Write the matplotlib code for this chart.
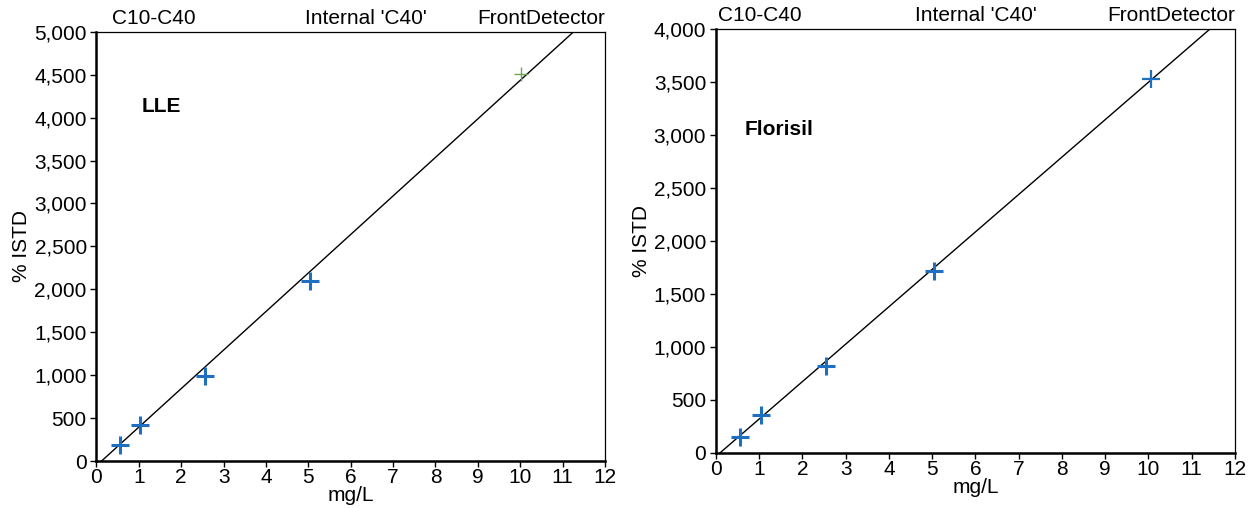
import matplotlib
matplotlib.use('Agg')
import matplotlib.pyplot as plt
from matplotlib.ticker import FuncFormatter, MultipleLocator

plt.rcParams['font.family'] = ['Liberation Sans', 'DejaVu Sans']

# calibration standards (mg/L) and response (% ISTD)
lle_conc = [0.55, 1.03, 2.55, 5.05, 10.03]
lle_resp = [185, 425, 985, 2095, 4510]
lle_slope, lle_icpt = 448.8, -54.0

flo_conc = [0.55, 1.04, 2.54, 5.04, 10.06]
flo_resp = [151, 358, 821, 1717, 3528]
flo_slope, flo_icpt = 353.0, -32.0

header = ['C10-C40', "Internal 'C40'", 'FrontDetector']

BLUE = '#1f6fc0'
GREEN = '#6aa84f'
FS = 15

fig = plt.figure(figsize=(12.53, 5.08), dpi=100, facecolor='white')
ax1 = fig.add_axes([0.077, 0.0925, 0.4058, 0.845])
ax2 = fig.add_axes([0.5714, 0.1083, 0.4142, 0.8346])


def style(ax, ymax, hdr_pos):
    ax.set_xlim(0, 12)
    ax.set_ylim(0, ymax)
    ax.xaxis.set_major_locator(MultipleLocator(1))
    ax.yaxis.set_major_locator(MultipleLocator(500))
    ax.yaxis.set_major_formatter(FuncFormatter(lambda v, p: f'{int(v):,}'))
    ax.tick_params(direction='out', length=4, width=1, labelsize=FS, pad=1)
    ax.tick_params(axis='y', pad=3)
    for s in ['top', 'right']:
        ax.spines[s].set_linewidth(0.9)
    for s in ['left', 'bottom']:
        ax.spines[s].set_linewidth(1.8)
    ax.set_xlabel('mg/L', fontsize=FS, labelpad=-1)
    ax.set_ylabel('% ISTD', fontsize=FS, labelpad=2)
    (xl, xc, xr), yb = hdr_pos, 1.018
    ax.text(xl, yb, header[0], transform=ax.transAxes, fontsize=FS, ha='left', va='baseline')
    ax.text(xc, yb, header[1], transform=ax.transAxes, fontsize=FS, ha='center', va='baseline')
    ax.text(xr, yb, header[2], transform=ax.transAxes, fontsize=FS, ha='right', va='baseline')


# LLE panel
ax1.axline((0, lle_icpt), slope=lle_slope, color='black', linewidth=1)
ax1.scatter(lle_conc[:-1], lle_resp[:-1], marker='+', s=150, linewidths=2.2, color=BLUE, zorder=3)
ax1.scatter(lle_conc[-1:], lle_resp[-1:], marker='+', s=110, linewidths=1, color=GREEN, zorder=3)
ax1.text(1.07, 4130, 'LLE', fontsize=FS, fontweight='bold', va='center')
style(ax1, 5000, (0.03, 0.53, 1.0))

# Florisil panel
ax2.axline((0, flo_icpt), slope=flo_slope, color='black', linewidth=1)
ax2.scatter(flo_conc[:-1], flo_resp[:-1], marker='+', s=150, linewidths=2.2, color=BLUE, zorder=3)
ax2.scatter(flo_conc[-1:], flo_resp[-1:], marker='+', s=150, linewidths=1.6, color=BLUE, zorder=3)
ax2.text(0.67, 3050, 'Florisil', fontsize=FS, fontweight='bold', va='center')
style(ax2, 4000, (0.004, 0.5, 1.0))

fig.savefig('out.png', dpi=100, facecolor='white')
